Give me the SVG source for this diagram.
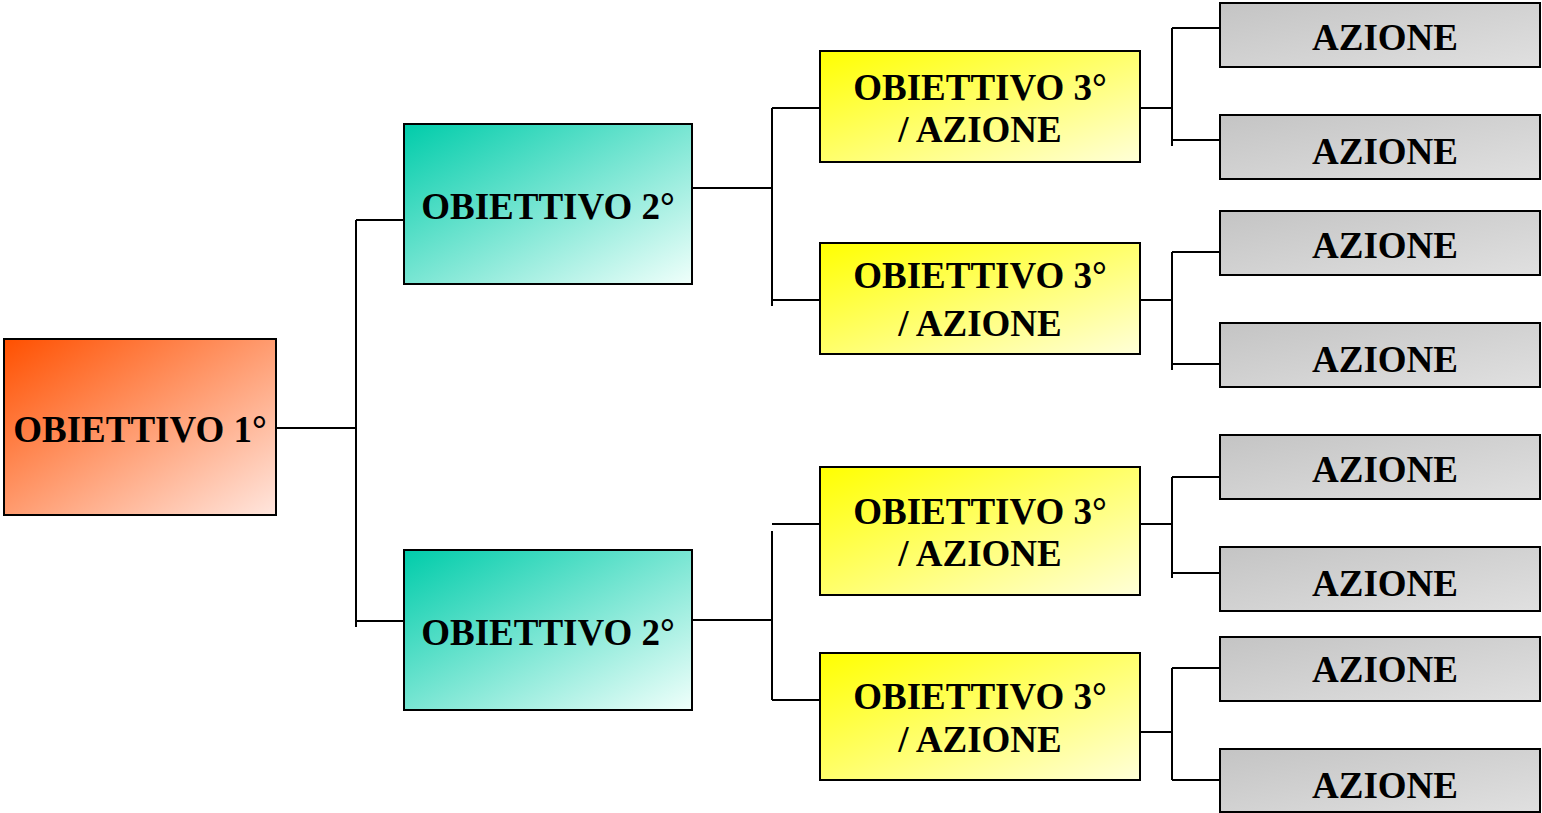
<svg xmlns="http://www.w3.org/2000/svg" width="1542" height="813" viewBox="0 0 1542 813">
<defs>
<linearGradient id="gOrange" x1="0" y1="0" x2="1" y2="1"><stop offset="0" stop-color="#FF5000"/><stop offset="1" stop-color="#FFE6DE"/></linearGradient>
<linearGradient id="gGreen" x1="0" y1="0" x2="1" y2="1"><stop offset="0" stop-color="#00CCAA"/><stop offset="1" stop-color="#F0FFFB"/></linearGradient>
<linearGradient id="gYellow" x1="0" y1="0" x2="1" y2="1"><stop offset="0" stop-color="#FFFF00"/><stop offset="1" stop-color="#FFFFD8"/></linearGradient>
<linearGradient id="gGray" x1="0" y1="0" x2="1" y2="1"><stop offset="0" stop-color="#C4C4C4"/><stop offset="1" stop-color="#E0E0E0"/></linearGradient>
</defs>
<style>
.box{stroke:#000;stroke-width:2}
.t{font-family:"Liberation Serif","Times New Roman",serif;font-weight:bold;font-size:37px;fill:#000;text-anchor:middle}
.c{stroke:#000;stroke-width:2;fill:none}
</style>
<rect width="1542" height="813" fill="#fff"/>
<g id="connectors">
<path class="c" d="M277 428H356M356 220V627M356 220H404M356 621H404"/>
<path class="c" d="M692 188H772M772 108V306M772 108H820M772 300H820"/>
<path class="c" d="M692 620H772M772 531V700M772 524H820M772 700H820"/>
<path class="c" d="M1140 108H1172M1172 28V146M1172 28H1220M1172 140H1220"/>
<path class="c" d="M1140 300H1172M1172 252V370M1172 252H1220M1172 364H1220"/>
<path class="c" d="M1140 524H1172M1172 477V578M1172 477H1220M1172 573H1220"/>
<path class="c" d="M1140 732H1172M1172 668V780M1172 668H1220M1172 780H1220"/>
</g>
<g id="n1"><rect class="box" x="4" y="339" width="272" height="176" fill="url(#gOrange)"/><text class="t" x="140" y="442">OBIETTIVO 1°</text></g>
<g id="n2a"><rect class="box" x="404" y="124" width="288" height="160" fill="url(#gGreen)"/><text class="t" x="548" y="219">OBIETTIVO 2°</text></g>
<g id="n2b"><rect class="box" x="404" y="550" width="288" height="160" fill="url(#gGreen)"/><text class="t" x="548" y="645">OBIETTIVO 2°</text></g>
<g id="n3a"><rect class="box" x="820" y="51" width="320" height="111" fill="url(#gYellow)"/><text class="t" x="980" y="100">OBIETTIVO 3°</text><text class="t" x="980" y="142">/ AZIONE</text></g>
<g id="n3b"><rect class="box" x="820" y="243" width="320" height="111" fill="url(#gYellow)"/><text class="t" x="980" y="288">OBIETTIVO 3°</text><text class="t" x="980" y="336">/ AZIONE</text></g>
<g id="n3c"><rect class="box" x="820" y="467" width="320" height="128" fill="url(#gYellow)"/><text class="t" x="980" y="524">OBIETTIVO 3°</text><text class="t" x="980" y="566">/ AZIONE</text></g>
<g id="n3d"><rect class="box" x="820" y="653" width="320" height="127" fill="url(#gYellow)"/><text class="t" x="980" y="709">OBIETTIVO 3°</text><text class="t" x="980" y="752">/ AZIONE</text></g>
<g id="a1"><rect class="box" x="1220" y="3" width="320" height="64" fill="url(#gGray)"/><text class="t" x="1385" y="50">AZIONE</text></g>
<g id="a2"><rect class="box" x="1220" y="115" width="320" height="64" fill="url(#gGray)"/><text class="t" x="1385" y="164">AZIONE</text></g>
<g id="a3"><rect class="box" x="1220" y="211" width="320" height="64" fill="url(#gGray)"/><text class="t" x="1385" y="258">AZIONE</text></g>
<g id="a4"><rect class="box" x="1220" y="323" width="320" height="64" fill="url(#gGray)"/><text class="t" x="1385" y="372">AZIONE</text></g>
<g id="a5"><rect class="box" x="1220" y="435" width="320" height="64" fill="url(#gGray)"/><text class="t" x="1385" y="482">AZIONE</text></g>
<g id="a6"><rect class="box" x="1220" y="547" width="320" height="64" fill="url(#gGray)"/><text class="t" x="1385" y="596">AZIONE</text></g>
<g id="a7"><rect class="box" x="1220" y="637" width="320" height="64" fill="url(#gGray)"/><text class="t" x="1385" y="682">AZIONE</text></g>
<g id="a8"><rect class="box" x="1220" y="749" width="320" height="63" fill="url(#gGray)"/><text class="t" x="1385" y="798">AZIONE</text></g>
</svg>
